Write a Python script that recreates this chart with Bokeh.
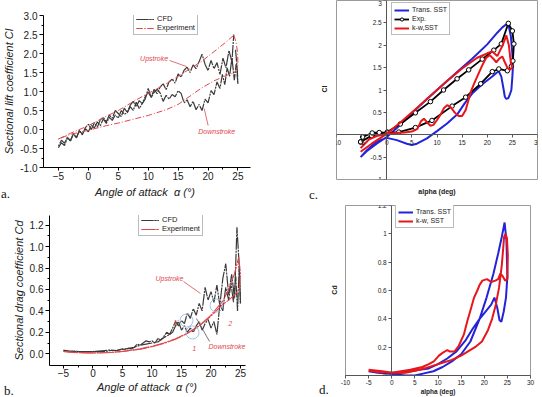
import math
from bokeh.plotting import figure
from bokeh.layouts import row, column
from bokeh.models import Label, FixedTicker, PrintfTickFormatter, LinearAxis, Div
from bokeh.embed import file_html
from bokeh.resources import INLINE

SANS = "Liberation Sans"
SERIF = "Liberation Serif"
INK = "#222222"

# ---------------- (a) lift coefficient, CFD vs experiment ----------------
a_xticks = [-5, 0, 5, 10, 15, 20, 25]
a_yticks = [-1.0, -0.5, 0.0, 0.5, 1.0, 1.5, 2.0, 2.5, 3.0]

a_cfd_up_x = [-5, -4.5, -4, -3.5, -3, -2.5, -2, -1.5, -1, -0.5,
              0, 0.5, 1, 1.5, 2, 2.5, 3, 3.5, 4, 4.5,
              5, 5.5, 6, 6.5, 7, 7.5, 8, 8.5, 9, 9.5,
              10, 10.5, 11, 11.5, 12, 12.5, 13, 13.5, 14, 14.5,
              15, 15.5, 16, 16.5, 17, 17.5, 18, 18.5, 19, 19.5,
              20, 20.5, 21, 21.5, 22, 22.5, 23, 23.5, 24, 24.3]
a_cfd_up_y = [-0.48, -0.35, -0.42, -0.22, -0.3, -0.1, -0.22, -0.02, -0.14, 0.05,
              0.14, 0.0, 0.18, 0.06, 0.26, 0.32, 0.2, 0.38, 0.3, 0.5,
              0.42, 0.34, 0.56, 0.45, 0.64, 0.74, 0.6, 0.76, 0.68, 0.86,
              0.98, 0.85, 1.06, 0.94, 1.12, 1.2, 1.05, 1.26, 1.32, 1.22,
              1.46, 1.38, 1.56, 1.64, 1.5, 1.7, 1.6, 1.78, 1.98, 1.72,
              1.55, 1.82, 1.6, 1.76, 1.45, 1.88, 1.62, 2.08, 1.78, 2.5]
a_cfd_dn_x = [24.6, 24.9, 25.0, 24.7, 24.4, 24.0, 23.6, 23.2, 22.8, 22.4,
              22.0, 21.5, 21.0, 20.5, 20.0, 19.5, 19.0, 18.5, 18.0, 17.5,
              17.0, 16.5, 16.0, 15.5, 15.0, 14.5, 14.0, 13.5, 13.0, 12.5,
              12.0, 11.5, 11.0, 10.5, 10.0, 9.5, 9.0, 8.5, 8.0, 7.5,
              7.0, 6.5, 6.0, 5.5, 5.0, 4.5, 4.0, 3.5, 3.0, 2.5,
              2.0, 1.5, 1.0, 0.5, 0.0, -0.5, -1.0, -1.5, -2.0, -2.5,
              -3.0, -3.5, -4.0, -4.5, -5.0]
a_cfd_dn_y = [2.1, 1.55, 1.2, 1.72, 1.3, 1.88, 1.4, 1.62, 1.18, 1.45,
              1.08, 1.25, 0.92, 1.02, 0.7, 0.8, 0.5, 0.66, 0.52, 0.74,
              0.6, 0.78, 0.7, 0.95, 1.02, 0.86, 0.92, 0.8, 0.9, 0.74,
              0.96, 1.06, 0.98, 0.84, 1.08, 0.8, 0.68, 0.55, 0.72, 0.5,
              0.6, 0.44, 0.4, 0.5, 0.3, 0.38, 0.24, 0.32, 0.16, 0.28,
              0.1, 0.2, 0.04, 0.12, -0.06, 0.02, -0.12, -0.04, -0.22, -0.12,
              -0.3, -0.2, -0.36, -0.28, -0.44]
a_exp_up_x = [-5, -3, 0, 3, 5, 8, 10, 13, 15, 17, 19, 21, 23, 24.3]
a_exp_up_y = [-0.25, -0.1, 0.1, 0.35, 0.5, 0.78, 0.95, 1.2, 1.4, 1.6, 1.8, 2.05, 2.3, 2.48]
a_exp_dn_x = [24.3, 24.7, 24.95, 25.0, 24.5, 23, 21, 19, 17, 15, 13, 10, 7, 5, 3, 0, -3, -5]
a_exp_dn_y = [2.48, 2.3, 2.0, 1.7, 1.5, 1.42, 1.28, 1.1, 0.88, 0.66, 0.52, 0.37, 0.25, 0.17, 0.1, -0.02, -0.13, -0.25]

# ---------------- (b) drag coefficient, CFD vs experiment ----------------
b_xticks = [-5, 0, 5, 10, 15, 20, 25]
b_yticks = [0.0, 0.2, 0.4, 0.6, 0.8, 1.0, 1.2]

b_cfd_up_x = [-5, -4, -3, -2, -1, 0, 1, 2, 3, 4,
              5, 5.5, 6, 6.5, 7, 7.5, 8, 8.5, 9, 9.5,
              10, 10.5, 11, 11.5, 12, 12.5, 13, 13.5, 14, 14.5,
              15, 15.5, 16, 16.5, 17, 17.5, 18, 18.5, 19, 19.5,
              20, 20.5, 21, 21.5, 22, 22.5, 23, 23.5, 24, 24.4,
              24.7, 25.0]
b_cfd_up_y = [0.035, 0.02, 0.025, 0.015, 0.02, 0.02, 0.025, 0.03, 0.035, 0.03,
              0.045, 0.04, 0.05, 0.045, 0.06, 0.09, 0.08, 0.1, 0.12, 0.11,
              0.12, 0.1, 0.14, 0.13, 0.16, 0.2, 0.18, 0.24, 0.3, 0.26,
              0.31, 0.28, 0.38, 0.33, 0.42, 0.36, 0.47, 0.4, 0.62, 0.5,
              0.58, 0.48, 0.64, 0.45, 0.7, 0.84, 0.55, 0.74, 0.52, 1.18,
              0.9, 0.47]
b_cfd_dn_x = [25.0, 24.8, 24.5, 24.2, 23.8, 23.4, 23.0, 22.5, 22.0, 21.5,
              21.0, 20.5, 20.0, 19.5, 19.0, 18.5, 18.0, 17.5, 17.0, 16.5,
              16.0, 15.5, 15.0, 14.5, 14.0, 13.5, 13.0, 12.0, 11.0, 10.0,
              9.0, 8.0, 7.0, 6.0, 5.0, 4.0, 3.0, 2.0, 1.0, 0.0,
              -1.0, -2.0, -3.0, -4.0, -5.0]
b_cfd_dn_y = [0.47, 0.82, 0.4, 0.72, 0.48, 0.66, 0.5, 0.62, 0.4, 0.46,
              0.18, 0.3, 0.24, 0.32, 0.28, 0.22, 0.3, 0.26, 0.2, 0.24,
              0.2, 0.26, 0.22, 0.3, 0.26, 0.2, 0.18, 0.15, 0.11, 0.1,
              0.09, 0.08, 0.06, 0.05, 0.04, 0.03, 0.03, 0.02, 0.02, 0.02,
              0.02, 0.02, 0.02, 0.025, 0.03]
b_exp_up_x = [-5, -3, 0, 3, 5, 8, 10, 12, 14, 16, 18, 20, 22, 23, 24, 24.7]
b_exp_up_y = [0.02, 0.012, 0.008, 0.012, 0.02, 0.045, 0.07, 0.1, 0.14, 0.19, 0.26, 0.36, 0.49, 0.6, 0.75, 0.9]
b_exp_dn_x = [24.7, 25.0, 24.8, 24, 23, 22, 20, 18, 16, 14, 12, 10, 8, 5, 3, 0, -3, -5]
b_exp_dn_y = [0.9, 0.75, 0.6, 0.55, 0.5, 0.46, 0.35, 0.26, 0.19, 0.135, 0.095, 0.065, 0.042, 0.022, 0.012, 0.006, 0.01, 0.02]

# ---------------- (c) Cl, transition SST / k-w SST / experiment ----------------
c_xticks = [-10, -5, 0, 5, 10, 15, 20, 25, 30]
c_yticks = [-1, -0.5, 0.5, 1, 1.5, 2, 2.5, 3]

c_exp_x = [-5.2, -3, 0.1, 2.7, 5.7, 8.7, 11.3, 14.0, 16.3, 19.0,
           21.3, 22.8, 24.2, 25.0, 25.3, 25.1, 24.8, 24.0, 22.3, 21.0,
           18.7, 15.7, 13.0, 9.0, 5.7, 2.4, 0.1, -1.5, -2.9, -4.8, -5.2]
c_exp_y = [-0.16, -0.02, 0.06, 0.24, 0.49, 0.74, 1.0, 1.25, 1.45, 1.69,
           1.89, 2.03, 2.49, 2.32, 2.03, 1.65, 1.53, 1.43, 1.47, 1.41,
           1.14, 0.84, 0.64, 0.32, 0.16, 0.06, 0.04, 0.05, 0.04, -0.05, -0.16]
c_sst_x = [-5.2, -4, -2, 0, 2, 5, 8, 11, 14, 17,
           20, 22, 23, 23.8, 24.3, 24.7, 25.0, 25.1, 25.0, 24.8,
           24.5, 24.2, 23.8, 23.5, 23.2, 22.8, 22.3, 21.8, 21.0, 19.0,
           17.0, 15.5, 14.0, 12.0, 10.0, 8.0, 6.0, 5.0, 4.0, 2.0,
           0.0, -2.0, -4.0, -5.2]
c_sst_y = [-0.5, -0.37, -0.2, -0.05, 0.15, 0.48, 0.8, 1.1, 1.4, 1.7,
           2.02, 2.28, 2.4, 2.47, 2.42, 2.2, 1.8, 1.5, 1.3, 1.0,
           0.9, 0.82, 0.8, 0.85, 1.05, 1.3, 1.42, 1.38, 1.3, 1.13,
           0.92, 0.7, 0.45, 0.25, 0.08, -0.08, -0.2, -0.23, -0.2, -0.12,
           -0.07, -0.15, -0.35, -0.5]
c_kw_x = [-5.2, -3, 0, 3, 6, 9, 12, 15, 18, 20,
          21, 22, 23, 23.8, 24.3, 24.7, 25.0, 24.5, 24.0, 23.5,
          23.0, 22.4, 21.8, 21.2, 20.5, 19.8, 19.0, 18.2, 17.4, 16.7,
          16.2, 15.7, 15.0, 14.3, 13.5, 12.7, 12.0, 11.4, 10.7, 10.0,
          9.3, 8.7, 8.0, 7.4, 6.8, 6.1, 5.0, 3.5, 2.0, 0.0,
          -2.0, -3.5, -5.2]
c_kw_y = [-0.38, -0.2, 0.02, 0.3, 0.6, 0.9, 1.2, 1.48, 1.72, 1.82,
          1.86, 1.76, 1.98, 2.22, 2.0, 1.6, 1.5, 1.45, 1.5, 1.62,
          1.75, 1.7, 1.62, 1.7, 1.78, 1.72, 1.55, 1.35, 1.15, 0.95,
          0.75, 0.55, 0.42, 0.42, 0.5, 0.62, 0.66, 0.6, 0.45, 0.33,
          0.22, 0.2, 0.28, 0.36, 0.3, 0.13, 0.07, 0.05, 0.04, 0.02,
          -0.03, -0.1, -0.3]

# ---------------- (d) Cd, transition SST / k-w SST ----------------
d_xticks = [-10, -5, 0, 5, 10, 15, 20, 25, 30]
d_yticks = [0, 0.2, 0.4, 0.6, 0.8, 1, 1.2]

d_sst_x = [-5, -3, 0, 3, 5, 7, 9, 11, 13, 15,
           17, 19, 20.5, 22, 23, 23.8, 24.4, 24.8, 25.0, 24.7,
           24.2, 23.7, 23.3, 22.8, 22.2, 21.5, 20.5, 19, 17.5, 16,
           14, 12, 10, 8, 6, 4, 2, 0, -2, -5]
d_sst_y = [0.03, 0.02, 0.01, 0.0, 0.0, 0.015, 0.03, 0.06, 0.1, 0.15,
           0.24, 0.4, 0.55, 0.72, 0.86, 0.98, 1.08, 0.95, 0.7, 0.55,
           0.45, 0.38, 0.39, 0.48, 0.55, 0.5, 0.46, 0.4, 0.33, 0.25,
           0.17, 0.12, 0.08, 0.05, 0.04, 0.03, 0.02, 0.02, 0.02, 0.03]
d_kw_x = [-5, -3, 0, 3, 6, 9, 11, 13, 15, 16.5,
          18, 19.5, 20.8, 21.7, 22.5, 23.2, 23.8, 24.3, 24.6, 24.9,
          25.1, 25.0, 24.5, 24.0, 23.5, 23.0, 22.4, 21.5, 20.6, 19.6,
          19.0, 18.5, 17.8, 17.1, 16.3, 15.6, 14.5, 13.6, 12.5, 12.0,
          11.0, 10.2, 9.1, 8.0, 6.6, 4.0, 2.0, 0.0, -2.0, -5.0]
d_kw_y = [0.035, 0.025, 0.02, 0.02, 0.04, 0.07, 0.09, 0.11, 0.14, 0.17,
          0.2, 0.24, 0.32, 0.4, 0.5, 0.62, 0.78, 0.98, 1.0, 0.97,
          0.85, 0.68, 0.67, 0.7, 0.72, 0.68, 0.67, 0.66, 0.68, 0.67,
          0.64, 0.6, 0.55, 0.47, 0.38, 0.29, 0.21, 0.17, 0.17, 0.18,
          0.16, 0.14, 0.1, 0.08, 0.06, 0.04, 0.03, 0.02, 0.03, 0.04]


def make_fig(width, height, left, right, top, bottom, xr, yr):
    p = figure(width=width, height=height, x_range=xr, y_range=yr, title=None,
               min_border_left=left, min_border_right=right,
               min_border_top=top, min_border_bottom=bottom,
               output_backend="svg", toolbar_location=None)
    p.grid.visible = False
    p.background_fill_color = "white"
    p.border_fill_color = "white"
    geom = (left, top, width - left - right, height - top - bottom, xr, yr)
    return p, geom


def span(x, y, text, size, italic=False, bold=False, serif=False,
         align="left", rotate=False, color=INK):
    """One caption, centred vertically on (x, y) in the box's pixels."""
    tx = "-50%" if align == "center" else "0"
    tr = f"translate({tx},-50%)" + (" rotate(-90deg)" if rotate else "")
    fam = "'Liberation Serif', serif" if serif else "'Liberation Sans', sans-serif"
    style = (f"position:absolute;left:{x}px;top:{y}px;transform:{tr};"
             f"font-family:{fam};font-size:{size}px;line-height:1;white-space:nowrap;"
             f"color:{color};font-style:{'italic' if italic else 'normal'};"
             f"font-weight:{'bold' if bold else 'normal'}")
    return f'<span style="{style}">{text}</span>'


def caption_box(width, height, spans):
    html = (f'<div style="position:relative;width:{width}px;height:{height}px;'
            f'overflow:hidden;background:white">' + "".join(spans) + "</div>")
    return Div(text=html, width=width, height=height, margin=(0, 0, 0, 0))


def to_data(geom, cx, cy):
    """Convert a canvas pixel position into the figure's data space."""
    left, top, w, h, xr, yr = geom
    x = xr[0] + (cx - left) * (xr[1] - xr[0]) / w
    y = yr[1] - (cy - top) * (yr[1] - yr[0]) / h
    return x, y


def put_text(p, geom, cx, cy, text, size, color=INK, style="normal", align="left"):
    x, y = to_data(geom, cx, cy)
    p.add_layout(Label(x=x, y=y, text=text, text_font=SANS, text_font_size=size,
                       text_color=color, text_font_style=style, text_align=align,
                       text_baseline="middle"))


def pointer(p, geom, c0, c1, color):
    x0, y0 = to_data(geom, *c0)
    x1, y1 = to_data(geom, *c1)
    p.line([x0, x1], [y0, y1], line_color=color, line_width=0.8)


def midpoints(t):
    return [(a + b) / 2 for a, b in zip(t, t[1:])]


def classic_axes(p, xticks, yticks, yfmt, ylabel, x_standoff):
    p.outline_line_color = None
    p.xaxis.ticker = FixedTicker(ticks=xticks, minor_ticks=midpoints(xticks))
    p.yaxis.ticker = FixedTicker(ticks=yticks, minor_ticks=midpoints(yticks))
    p.yaxis.formatter = PrintfTickFormatter(format=yfmt)
    for ax in (p.xaxis[0], p.yaxis[0]):
        ax.axis_line_color = "black"
        ax.major_tick_line_color = "black"
        ax.minor_tick_line_color = "black"
        ax.major_tick_out = 4
        ax.major_tick_in = 0
        ax.minor_tick_out = 2
        ax.minor_tick_in = 0
        ax.major_label_text_font = SANS
        ax.major_label_text_font_size = "10px"
        ax.major_label_text_color = INK
        ax.major_label_standoff = 2
        ax.axis_label_text_font = SANS
        ax.axis_label_text_font_size = "11px"
        ax.axis_label_text_font_style = "italic"
        ax.axis_label_text_color = INK
        ax.axis_label_standoff = 2
    p.xaxis.major_label_standoff = x_standoff
    p.xaxis.major_tick_out = 3
    p.yaxis.axis_label = ylabel


def excel_axes(p, xticks, yticks, fix_x):
    p.outline_line_color = "#9a9a9a"
    p.xaxis.ticker = FixedTicker(ticks=xticks)
    p.yaxis.ticker = FixedTicker(ticks=yticks)
    p.xaxis.formatter = PrintfTickFormatter(format="%g")
    p.yaxis.formatter = PrintfTickFormatter(format="%g")
    p.yaxis.fixed_location = 0
    if fix_x:
        p.xaxis.fixed_location = 0
    for ax in (p.xaxis[0], p.yaxis[0]):
        ax.axis_line_color = "#555555"
        ax.major_tick_line_color = "#555555"
        ax.minor_tick_line_color = None
        ax.major_tick_out = 3
        ax.major_tick_in = 0
        ax.major_label_text_font = SANS
        ax.major_label_text_font_size = "6.5px"
        ax.major_label_text_color = INK
        ax.major_label_standoff = 2


def style_legend(p, loc, size, glyph_w):
    lg = p.legend[0]
    lg.location = loc
    lg.label_text_font = SANS
    lg.label_text_font_size = size
    lg.label_text_color = INK
    lg.glyph_width = glyph_w
    lg.glyph_height = 8
    lg.label_height = 9
    lg.label_standoff = 3
    lg.spacing = 0
    lg.padding = 2
    lg.margin = 0
    lg.border_line_color = "#777777"
    lg.border_line_width = 1
    lg.background_fill_alpha = 1.0


RED_EXP = "#e0474c"
CFD_INK = "#3a3a3a"
BLUE = "#2323d8"
RED = "#e8161b"
AOA = "Angle of attack&nbsp; \u03b1 (\u00b0)"

# ---------- panel a ----------
pa, ga = make_fig(271, 184, 40, 21, 15, 17, (-7.5, 27.1), (-1.0, 3.0))
classic_axes(pa, a_xticks, a_yticks, "%.1f", "Sectional lift coefficient Cl", 1)
pa.line(a_cfd_up_x, a_cfd_up_y, line_color=CFD_INK, line_width=1.2,
        line_dash="12 1 2 1", legend_label="CFD")
pa.line(a_cfd_dn_x, a_cfd_dn_y, line_color=CFD_INK, line_width=1.2,
        line_dash="12 1 2 1", legend_label="CFD")
pa.line(a_exp_up_x, a_exp_up_y, line_color=RED_EXP, line_width=1,
        line_dash="6 2 1 2", legend_label="Experiment")
pa.line(a_exp_dn_x, a_exp_dn_y, line_color=RED_EXP, line_width=1,
        line_dash="6 2 1 2", legend_label="Experiment")
style_legend(pa, (90, 132), "7.5px", 18)
put_text(pa, ga, 138, 58, "Upstroke", "7px", color=RED_EXP, style="italic")
pointer(pa, ga, (168, 60), (185, 66), RED_EXP)
put_text(pa, ga, 197, 131, "Downstroke", "7px", color=RED_EXP, style="italic")
pointer(pa, ga, (207, 125), (203, 108), RED_EXP)

sa = caption_box(271, 16, [
    span(145, 8, AOA, 11, italic=True, align="center"),
    span(1, 9, "a.", 13, serif=True, color="#111111"),
])

# ---------- panel b ----------
pb, gb = make_fig(271, 180, 49, 26, 15, 15, (-7.37, 25.85), (-0.11, 1.29))
classic_axes(pb, b_xticks, b_yticks, "%.1f", "Sectional drag coefficient Cd", 0)
pb.line(b_cfd_up_x, b_cfd_up_y, line_color=CFD_INK, line_width=1.2,
        line_dash="12 1 2 1", legend_label="CFD")
pb.line(b_cfd_dn_x, b_cfd_dn_y, line_color=CFD_INK, line_width=1.2,
        line_dash="12 1 2 1", legend_label="CFD")
pb.line(b_exp_up_x, b_exp_up_y, line_color=RED_EXP, line_width=1.1,
        line_dash="14 1 2 1", legend_label="Experiment")
pb.line(b_exp_dn_x, b_exp_dn_y, line_color=RED_EXP, line_width=1.1,
        line_dash="14 1 2 1", legend_label="Experiment")
style_legend(pb, (89, 129), "7.5px", 18)
put_text(pb, gb, 155, 78, "Upstroke", "7px", color=RED_EXP, style="italic")
pointer(pb, gb, (183, 81), (200, 93), RED_EXP)
put_text(pb, gb, 208, 146, "Downstroke", "7px", color=RED_EXP, style="italic")
pointer(pb, gb, (209, 141), (196, 118), "#555555")
for cx, cy in [(186, 120), (192, 132), (216, 105)]:
    x, y = to_data(gb, cx, cy)
    pb.scatter([x], [y], marker="circle", size=13, fill_color=None,
               line_color="#8fb4e0", line_width=0.8)
put_text(pb, gb, 173, 122, "1'", "6.5px", color=RED_EXP, style="italic")
put_text(pb, gb, 192, 148, "1", "6.5px", color=RED_EXP, style="italic")
put_text(pb, gb, 228, 123, "2", "6.5px", color=RED_EXP, style="italic")

sb = caption_box(271, 17, [
    span(147, 7, AOA, 11, italic=True, align="center"),
    span(4, 10, "b.", 13, serif=True, color="#111111"),
])

# ---------- panel c ----------
pc, gc = make_fig(211, 200, 5, 5, 0, 21, (-10, 30), (-1, 3))
excel_axes(pc, c_xticks, c_yticks, True)
alpha_c = LinearAxis(axis_label="alpha (deg)", ticker=FixedTicker(ticks=[]),
                     axis_line_color=None, major_tick_line_color=None,
                     minor_tick_line_color=None, major_tick_out=0, minor_tick_out=0,
                     axis_label_standoff=8, axis_label_text_font=SANS,
                     axis_label_text_font_size="7px", axis_label_text_font_style="bold",
                     axis_label_text_color=INK)
pc.add_layout(alpha_c, "below")
pc.line(c_sst_x, c_sst_y, line_color=BLUE, line_width=2, legend_label="Trans. SST")
pc.line(c_exp_x, c_exp_y, line_color="black", line_width=1.8, legend_label="Exp.")
pc.scatter(c_exp_x, c_exp_y, marker="circle", size=4.5, fill_color="white",
           line_color="black", line_width=1, legend_label="Exp.")
pc.line(c_kw_x, c_kw_y, line_color=RED, line_width=2, legend_label="k-w,SST")
style_legend(pc, (55, 144), "7px", 15)

sc = caption_box(60, 200, [
    span(53, 89, "Cl", 7, bold=True, align="center", rotate=True),
    span(38, 194, "c.", 13, serif=True, color="#111111"),
])

# ---------- panel d ----------
pd_, gd = make_fig(203, 197, 6, 12, 5, 22, (-10, 30), (0, 1.2))
excel_axes(pd_, d_xticks, d_yticks, False)
pd_.xaxis.major_label_standoff = 1
pd_.xaxis.axis_label = "alpha (deg)"
pd_.xaxis.axis_label_text_font = SANS
pd_.xaxis.axis_label_text_font_size = "6.5px"
pd_.xaxis.axis_label_text_font_style = "bold"
pd_.xaxis.axis_label_text_color = INK
pd_.xaxis.axis_label_standoff = 0
pd_.line(d_sst_x, d_sst_y, line_color=BLUE, line_width=2, legend_label="Trans. SST")
pd_.line(d_kw_x, d_kw_y, line_color=RED, line_width=2, legend_label="k-w, SST")
style_legend(pd_, (50, 147), "7px", 15)

sd = caption_box(68, 197, [
    span(63, 90, "Cd", 7, bold=True, align="center", rotate=True),
    span(48, 189, "d.", 13, serif=True, color="#111111"),
])

layout = column(
    row(column(pa, sa), row(sc, pc)),
    row(column(pb, sb), row(sd, pd_)),
)
open("out.html", "w").write(file_html(layout, INLINE))
